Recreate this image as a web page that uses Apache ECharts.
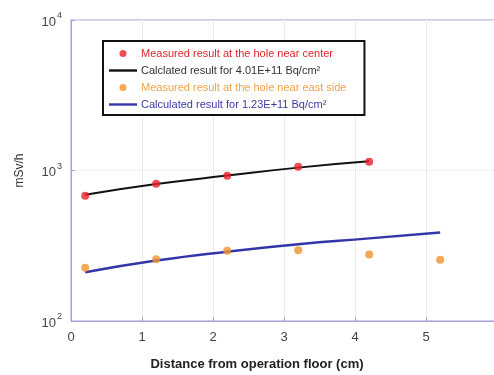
<!DOCTYPE html>
<html><head><meta charset="utf-8">
<script src="https://cdn.jsdelivr.net/npm/echarts@6/dist/echarts.min.js"></script>
<style>html,body{margin:0;padding:0;background:#fff}#c{width:494px;height:375px}</style>
</head><body><div id="c"></div>
<script>
const xTicks = [0, 1, 2, 3, 4, 5, 6];
const centerX = [0.2, 1.2, 2.2, 3.2, 4.2];
const centerMeasured = [680, 817, 923, 1059, 1143];
const centerCalcX = [0.2, 1.2, 2.2, 3.2, 4.2];
const centerCalc = [690, 812, 925, 1045, 1150];
const eastX = [0.2, 1.2, 2.2, 3.2, 4.2, 5.2];
const eastMeasured = [226, 257, 293, 295, 277, 255];
const eastCalcX = [0.2, 1.2, 2.2, 3.2, 4.2, 5.2];
const eastCalc = [211, 252, 289, 324, 354, 388];
const names = [
  'Measured result at the hole near center',
  'Calclated result for 4.01E+11 Bq/cm\u00b2',
  'Measured result at the hole near east side',
  'Calculated result for 1.23E+11 Bq/cm\u00b2'
];
const pair = (xs, ys) => xs.map((x, i) => [x, ys[i]]);
const axisColor = '#a79fd6';
const lineIcon = 'path://M0,0H28V2.4H0Z';
const chart = echarts.init(document.getElementById('c'));
chart.setOption({
  animation: false,
  grid: { left: 71, top: 20, width: 426, height: 301, show: true, borderColor: axisColor, borderWidth: 1, containLabel: false, outerBoundsMode: 'none' },
  legend: {
    orient: 'vertical', left: 103, top: 41,
    backgroundColor: '#fff', borderColor: '#111', borderWidth: 2,
    padding: [7, 18, 5, 6], itemGap: 6, itemWidth: 28, itemHeight: 7,
    textStyle: { fontSize: 11, fontFamily: 'Liberation Sans, Arial', padding: [0, 0, 0, -1] },
    data: [
      { name: names[0], textStyle: { color: '#e2242e' } },
      { name: names[1], icon: lineIcon, textStyle: { color: '#333' } },
      { name: names[2], textStyle: { color: '#f2a24a' } },
      { name: names[3], icon: lineIcon, textStyle: { color: '#3d3aa6' } }
    ]
  },
  xAxis: {
    type: 'value', min: 0, max: 6, interval: 1,
    name: 'Distance from operation floor (cm)', nameLocation: 'middle', nameGap: 37,
    nameTextStyle: { fontSize: 13, fontWeight: 'bold', color: '#222', fontFamily: 'Liberation Sans, Arial', padding: [0, 54, 0, 0] },
    axisLine: { lineStyle: { color: axisColor } },
    axisTick: { inside: true, length: 4, lineStyle: { color: axisColor } },
    axisLabel: { fontSize: 13, color: '#444', margin: 10, fontFamily: 'Liberation Sans, Arial' },
    splitLine: { show: true, lineStyle: { color: '#ececec' } }
  },
  yAxis: {
    type: 'log', logBase: 10, min: 100, max: 10000,
    name: 'mSv/h', nameLocation: 'middle', nameGap: 45,
    nameTextStyle: { fontSize: 12, color: '#333', fontFamily: 'Liberation Sans, Arial' },
    axisLine: { show: true, lineStyle: { color: axisColor } },
    axisTick: { show: true, inside: true, length: 4, lineStyle: { color: axisColor } },
    axisLabel: {
      margin: 9, color: '#444',
      formatter: v => '{b|10}{s|' + Math.round(Math.log10(v)) + '}',
      rich: {
        b: { fontSize: 13, color: '#444', fontFamily: 'Liberation Sans, Arial', verticalAlign: 'bottom' },
        s: { fontSize: 9, color: '#444', fontFamily: 'Liberation Sans, Arial', verticalAlign: 'top', padding: [0, 0, 8, 1] }
      }
    },
    splitLine: { show: true, lineStyle: { color: '#e4e4e4', type: 'dotted' } }
  },
  series: [
    { name: names[0], type: 'scatter', data: pair(centerX, centerMeasured), symbolSize: 8, itemStyle: { color: '#e8222c' }, z: 5 },
    { name: names[1], type: 'line', data: pair(centerCalcX, centerCalc), smooth: true, symbol: 'none', lineStyle: { color: '#111', width: 2 }, itemStyle: { color: '#111' } },
    { name: names[2], type: 'scatter', data: pair(eastX, eastMeasured), symbolSize: 8, itemStyle: { color: '#f0922e' }, z: 5 },
    { name: names[3], type: 'line', data: pair(eastCalcX, eastCalc), smooth: true, symbol: 'none', lineStyle: { color: '#3436a8', width: 2.5 }, itemStyle: { color: '#3436a8' } }
  ]
});
</script></body></html>
